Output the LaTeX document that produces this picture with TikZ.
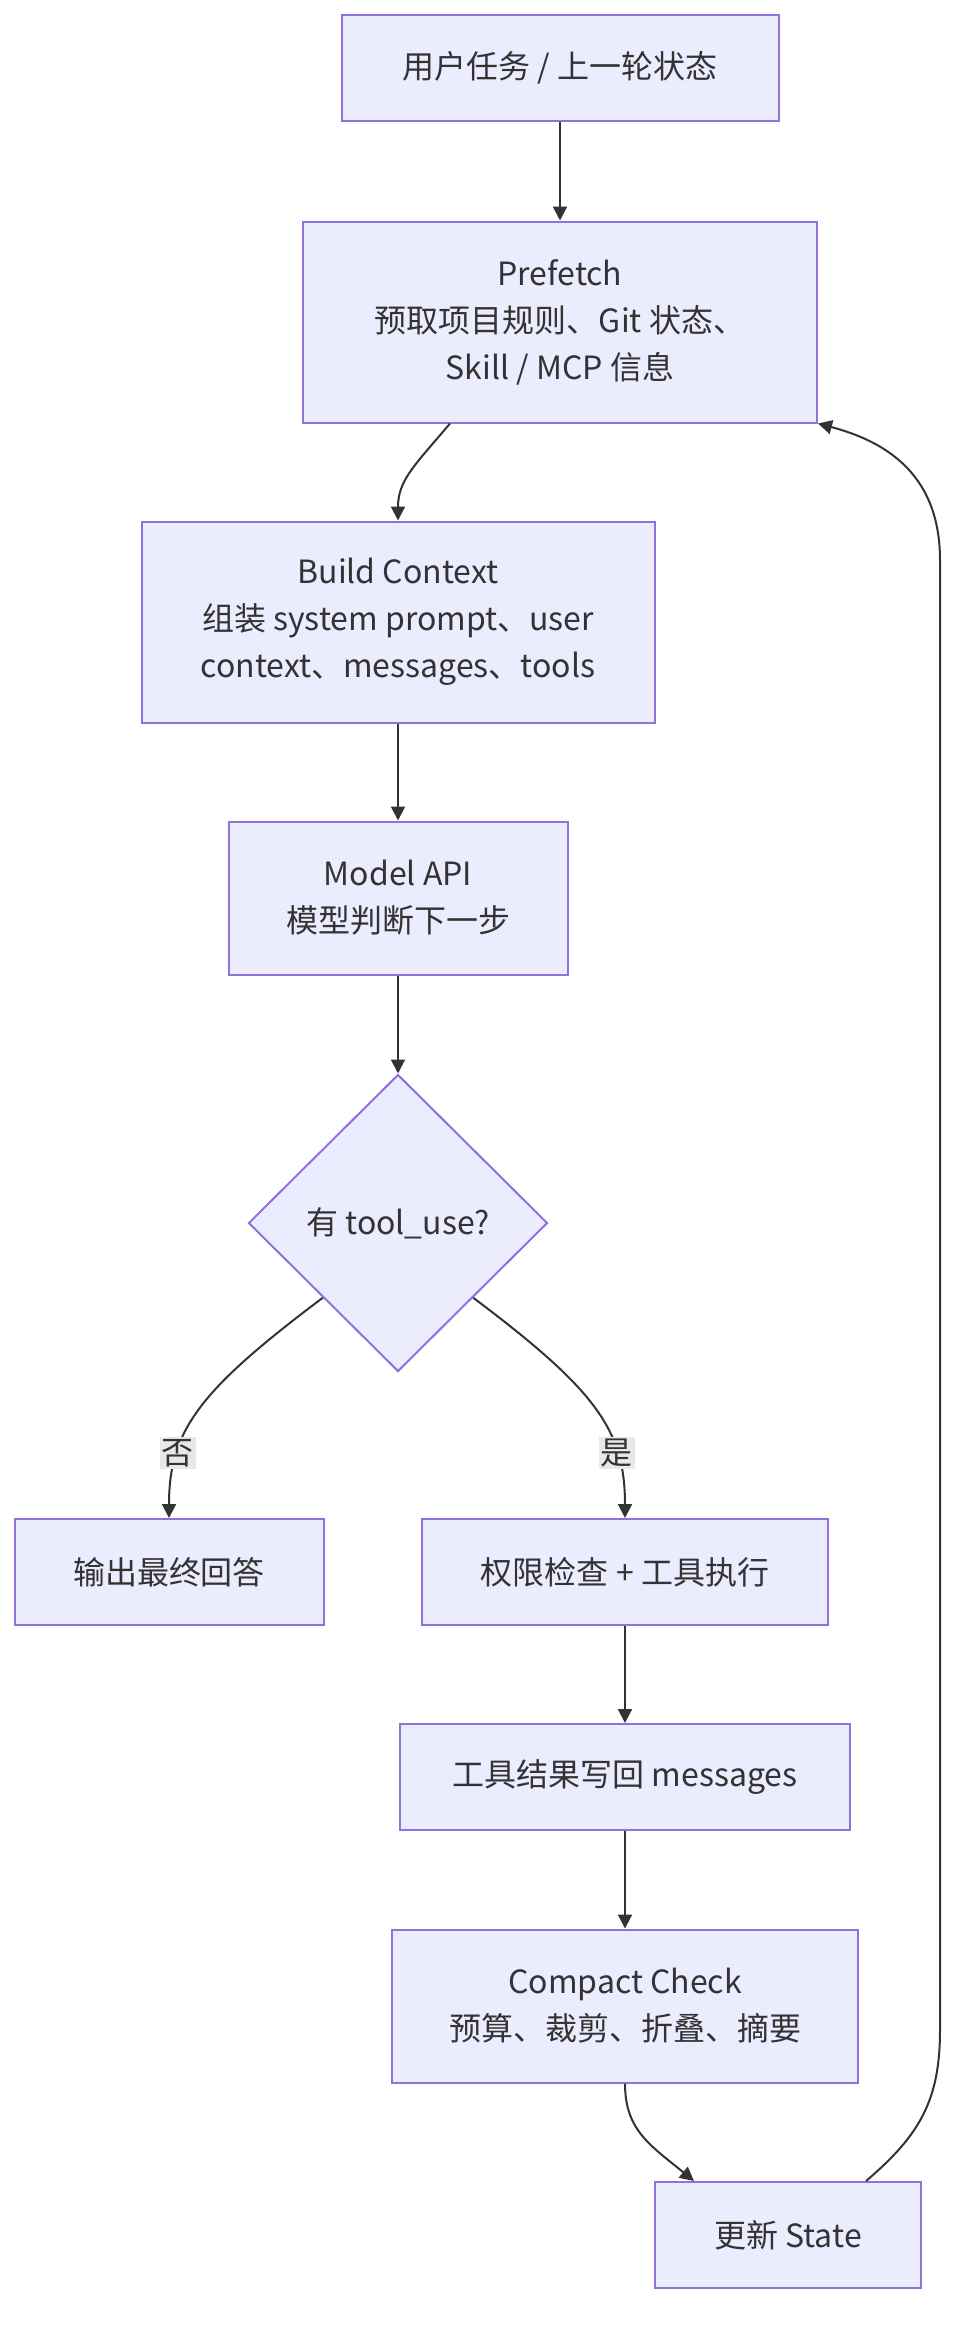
\documentclass[tikz,border=0pt]{standalone}
\usepackage{fontspec}
\setmainfont{Noto Sans CJK SC}
\usetikzlibrary{arrows.meta,shapes.geometric,calc}

\definecolor{boxfill}{HTML}{ECECFF}
\definecolor{boxline}{HTML}{9370DB}
\definecolor{ink}{HTML}{333333}
\definecolor{labfill}{HTML}{E8E8E8}

\tikzset{
    stepbox/.style={rectangle, draw=boxline, fill=boxfill, line width=1pt, text=ink, align=center, inner sep=0pt, font=\fontsize{16pt}{23.5pt}\selectfont},
    decision/.style={diamond, aspect=1, draw=boxline, fill=boxfill, line width=1pt, text=ink, inner sep=0pt, font=\fontsize{16pt}{23.5pt}\selectfont},
    flow/.style={draw=ink, line width=1pt, -{Triangle[length=7pt,width=7pt]}},
    edgelab/.style={fill=labfill, text=ink, inner sep=1pt, font=\fontsize{16pt}{20pt}\selectfont}
}

\begin{document}
\begin{tikzpicture}[x=0.5pt, y=-0.5pt]
    \useasboundingbox (0,0) rectangle (970,2336);

    \node[stepbox, minimum width=218.5pt, minimum height=53pt] (task) at (560,68) {用户任务 / 上一轮状态};
    \node[stepbox, minimum width=257pt, minimum height=100.5pt] (pre) at (560,322) {Prefetch\\预取项目规则、Git 状态、\\Skill / MCP 信息};
    \node[stepbox, minimum width=256.5pt, minimum height=100.5pt] (build) at (398,622) {Build Context\\组装 system prompt、user\\context、messages、tools};
    \node[stepbox, minimum width=169.5pt, minimum height=76.5pt] (model) at (398,898) {Model API\\模型判断下一步};
    \node[decision, minimum width=149.5pt, minimum height=148.5pt] (dec) at (398,1223) {有 tool\_use?};
    \node[stepbox, minimum width=154.5pt, minimum height=53pt] (ans) at (169,1572) {输出最终回答};
    \node[stepbox, minimum width=203pt, minimum height=53pt] (ex) at (625,1572) {权限检查 + 工具执行};
    \node[stepbox, minimum width=225pt, minimum height=53pt] (wr) at (625,1777) {工具结果写回 messages};
    \node[stepbox, minimum width=233pt, minimum height=76.5pt] (cmp) at (625,2006) {Compact Check\\预算、裁剪、折叠、摘要};
    \node[stepbox, minimum width=133pt, minimum height=53pt] (state) at (788,2235) {更新 State};

    \draw[flow] (task) -- (pre);
    \draw[flow] ($(pre.south)+(-110,0)$) .. controls (415,465) and (398,480) .. (build);
    \draw[flow] (build) -- (model);
    \draw[flow] (model) -- (dec);
    \draw[flow] (dec.south west) .. controls (200,1390) and (169,1430) .. (ans) node[edgelab, pos=.72] (no) {否};
    \draw[flow] (dec.south east) .. controls (596,1390) and (625,1430) .. (ex) node[edgelab, pos=.72] (yes) {是};
    \draw[flow] (ex) -- (wr);
    \draw[flow] (wr) -- (cmp);
    \draw[flow] (cmp.south) .. controls (625,2130) and (650,2145) .. ($(state.north)+(-94,0)$);
    \draw[flow] ($(state.north)+(78,0)$) .. controls (920,2135) and (940,2100) .. (940,2030)
        -- (940,560) .. controls (940,470) and (880,440) .. (pre.south east);
\end{tikzpicture}
\end{document}
